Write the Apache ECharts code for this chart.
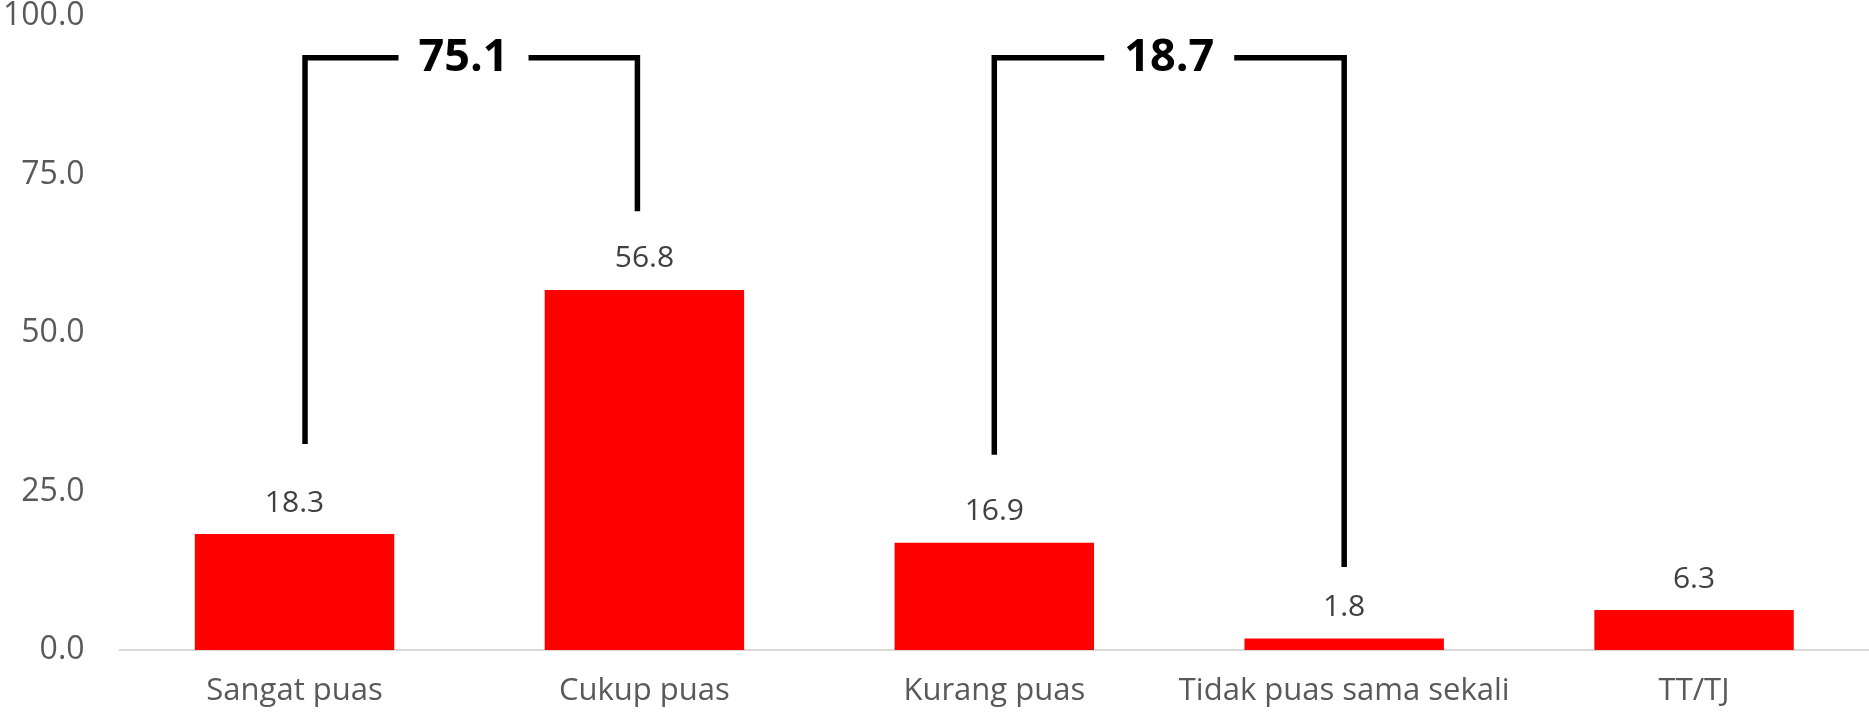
<!DOCTYPE html>
<html>
<head>
<meta charset="utf-8">
<script src="https://cdn.jsdelivr.net/npm/echarts@6/dist/echarts.min.js"></script>
<style>html,body{margin:0;padding:0;background:#fff}#c{width:1869px;height:718px}</style>
</head>
<body>
<div id="c"></div>
<script>
var categories = ['Sangat puas', 'Cukup puas', 'Kurang puas', 'Tidak puas sama sekali', 'TT/TJ'];
var values = [18.3, 56.8, 16.9, 1.8, 6.3];
var yTicks = [0, 25, 50, 75, 100];
// bracket outlines: [category position, value]
var bracket1 = [[0.03, 32.5], [0.03, 93.4], [0.98, 93.4], [0.98, 69.2]];
var bracket2 = [[2.0, 30.8], [2.0, 93.4], [3.0, 93.4], [3.0, 13.1]];
var bracketTotals = [[0.483, 93.4, '75.1'], [2.5, 93.4, '18.7']];

var font = 'Open Sans';
var chart = echarts.init(document.getElementById('c'), null, {renderer: 'canvas'});
function bracketSeries(d) {
  return {
    type: 'line', xAxisIndex: 1, data: d, symbol: 'none', silent: true, z: 3,
    lineStyle: {color: '#000', width: 5.5, join: 'miter', cap: 'butt'},
    animation: false
  };
}
chart.setOption({
  animation: false,
  grid: {left: 117, right: 0, top: 16, bottom: 68},
  xAxis: [{
    type: 'category', data: categories,
    axisLine: {lineStyle: {color: '#D9D9D9', width: 2}},
    axisTick: {show: false},
    axisLabel: {color: '#595959', fontFamily: font, fontSize: 31, margin: 26, interval: 0}
  }, {
    type: 'value', min: -0.5, max: 4.5, show: false
  }],
  yAxis: {
    type: 'value', min: yTicks[0], max: yTicks[yTicks.length - 1], interval: 25,
    axisLine: {show: false}, axisTick: {show: false}, splitLine: {show: false},
    axisLabel: {color: '#595959', fontFamily: font, fontSize: 32, margin: 35,
      formatter: function (v) { return v.toFixed(1); }}
  },
  series: [{
    type: 'bar', data: values, barWidth: '57%',
    itemStyle: {color: '#FF0000'},
    label: {show: true, position: 'top', distance: 16, color: '#404040', fontFamily: font, fontSize: 30,
      formatter: function (p) { return p.value.toFixed(1); }}
  },
  bracketSeries(bracket1),
  bracketSeries(bracket2),
  {
    type: 'scatter', xAxisIndex: 1, data: bracketTotals, symbolSize: 1, z: 5, silent: true,
    itemStyle: {color: 'transparent', opacity: 1},
    label: {show: true, position: 'inside', color: '#000', fontFamily: font, fontWeight: 'bold', fontSize: 45,
      backgroundColor: '#fff', padding: [4, 20, 4, 20], opacity: 1,
      formatter: function (p) { return p.value[2]; }}
  }]
});
</script>
</body>
</html>
